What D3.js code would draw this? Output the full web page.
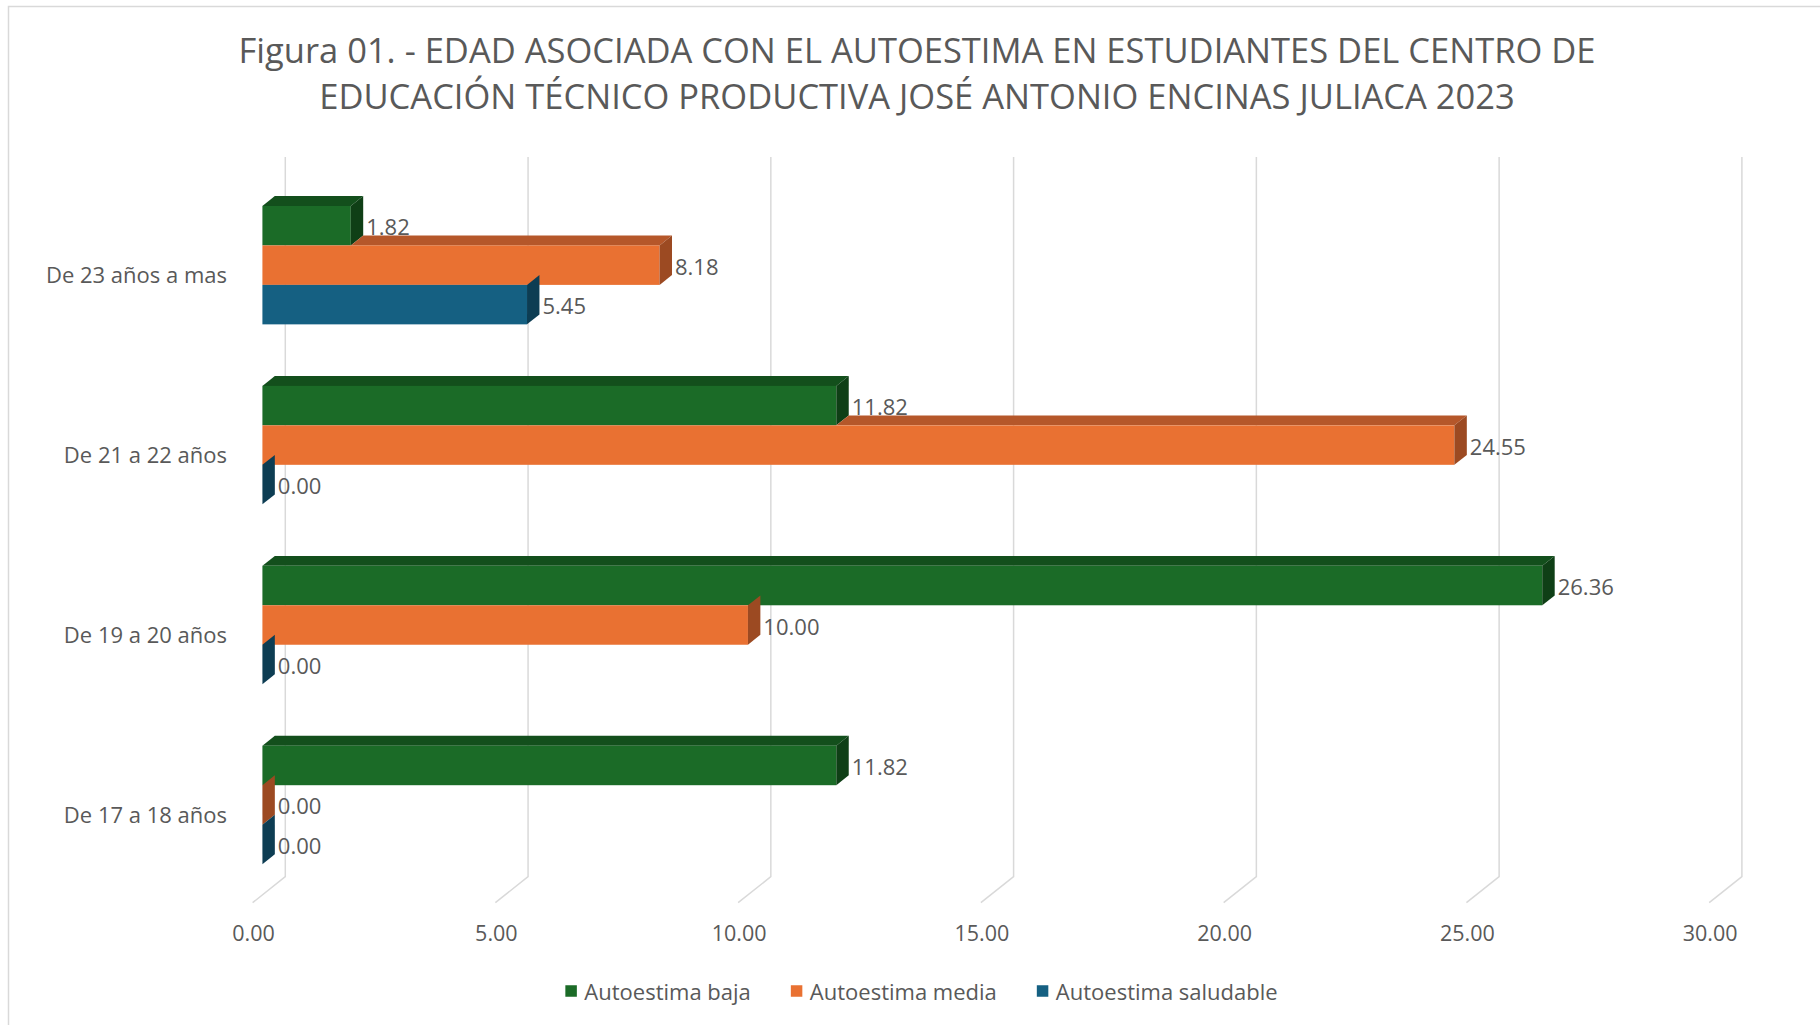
<!DOCTYPE html>
<html>
<head>
<meta charset="utf-8">
<script src="https://cdn.jsdelivr.net/npm/d3@7"></script>
<style>
  html, body { margin: 0; padding: 0; background: #fff; }
  svg text { font-family: "Open Sans", "Noto Sans", sans-serif; fill: #595959; }
</style>
</head>
<body>
<svg id="chart" width="1820" height="1025"></svg>
<script>
// data
const categories = ["De 23 años a mas", "De 21 a 22 años", "De 19 a 20 años", "De 17 a 18 años"];
const seriesNames = ["Autoestima baja", "Autoestima media", "Autoestima saludable"];
const baja = [1.82, 11.82, 26.36, 11.82];
const media = [8.18, 24.55, 10.00, 0.00];
const saludable = [5.45, 0.00, 0.00, 0.00];
const xTicks = [0, 5, 10, 15, 20, 25, 30];
const titleLines = [
  "Figura 01. - EDAD ASOCIADA CON EL AUTOESTIMA EN ESTUDIANTES DEL CENTRO DE",
  "EDUCACIÓN TÉCNICO PRODUCTIVA JOSÉ ANTONIO ENCINAS JULIACA 2023"
];

const colors = [
  { front: "#1b6b27", top: "#134f1c", side: "#0f3f16" },
  { front: "#e97132", top: "#b5572a", side: "#9c4a22" },
  { front: "#156082", top: "#104a64", side: "#0d3d53" }
];
const values = [baja, media, saludable];

const svg = d3.select("#chart");

// chart area outline
svg.append("rect")
  .attr("x", 8.5).attr("y", 6.5)
  .attr("width", 1840).attr("height", 1040)
  .attr("fill", "#fff")
  .attr("stroke", "#d9d9d9")
  .attr("stroke-width", 1.5);

// title
svg.append("g").selectAll("text")
  .data(titleLines)
  .join("text")
  .attr("x", 917)
  .attr("y", (d, i) => 49 + i * 46)
  .attr("text-anchor", "middle")
  .attr("dominant-baseline", "central")
  .attr("font-size", 34.5)
  .text(d => d);

// oblique 3d: depth 0 = front of floor, depth 1 = back wall
const DX = 32.7, DY = -26;
const Z0 = 0.30, Z1 = 0.68;

const x = d3.scaleLinear().domain([0, 30]).range([252.6, 1709.2]);
const y = d3.scaleBand().domain(categories).range([183, 902.7])
  .paddingInner(0.342).paddingOuter(0.171);
const ys = d3.scaleBand().domain(seriesNames).range([0, y.bandwidth()]);

const proj = (v, yy, z) => [x(v) + z * DX, yy + z * DY];
const pts = arr => arr.map(p => p.join(",")).join(" ");

const backTop = 157, backBottom = 902.7 + DY;

// gridlines: back wall verticals + floor diagonals
const grid = svg.append("g")
  .attr("fill", "none")
  .attr("stroke", "#d9d9d9")
  .attr("stroke-width", 1.5);
grid.selectAll("path")
  .data(xTicks)
  .join("path")
  .attr("d", d => `M${x(d) + DX},${backTop} L${x(d) + DX},${backBottom} L${x(d)},${902.7}`);

// x tick labels
svg.append("g").selectAll("text")
  .data(xTicks)
  .join("text")
  .attr("x", d => x(d) + 1)
  .attr("y", 932)
  .attr("text-anchor", "middle")
  .attr("dominant-baseline", "central")
  .attr("font-size", 21.5)
  .text(d => d.toFixed(2));

// category labels
svg.append("g").selectAll("text")
  .data(categories)
  .join("text")
  .attr("x", 227)
  .attr("y", d => y(d) + y.bandwidth() / 2 + 1.5)
  .attr("text-anchor", "end")
  .attr("dominant-baseline", "central")
  .attr("font-size", 22)
  .text(d => d);

// bars, drawn group by group, series top to bottom
const bars = svg.append("g");
categories.forEach((cat, ci) => {
  const g = bars.append("g");
  seriesNames.forEach((s, si) => {
    const v = values[si][ci];
    const prev = si === 0 ? 0 : values[si - 1][ci];
    const t = y(cat) + ys(s);
    const b = t + ys.bandwidth();
    const c = colors[si];
    // top face, only the part not hidden by the bar above
    if (v > prev) {
      g.append("polygon")
        .attr("points", pts([proj(prev, t, Z0), proj(v, t, Z0), proj(v, t, Z1), proj(prev, t, Z1)]))
        .attr("fill", c.top);
    }
    // front face
    if (v > 0) {
      const p0 = proj(0, t, Z0), p1 = proj(v, b, Z0);
      g.append("rect")
        .attr("x", p0[0]).attr("y", p0[1])
        .attr("width", p1[0] - p0[0]).attr("height", p1[1] - p0[1])
        .attr("fill", c.front);
    }
    // right side face
    g.append("polygon")
      .attr("points", pts([proj(v, t, Z0), proj(v, t, Z1), proj(v, b, Z1), proj(v, b, Z0)]))
      .attr("fill", c.side);
    // value label
    const lp = proj(v, (t + b) / 2, Z0);
    g.append("text")
      .attr("x", x(v) + Z1 * DX + 3)
      .attr("y", lp[1] + 0.5)
      .attr("dominant-baseline", "central")
      .attr("font-size", 22)
      .text(v.toFixed(2));
  });
});

// legend
const legend = svg.append("g");
const items = legend.selectAll("g")
  .data(seriesNames)
  .join("g");
items.append("rect")
  .attr("width", 11.5).attr("height", 11.5)
  .attr("y", -5.75)
  .attr("fill", (d, i) => colors[i].front);
items.append("text")
  .attr("x", 19)
  .attr("dominant-baseline", "central")
  .attr("font-size", 22)
  .text(d => d);
let cx = 0;
items.each(function () {
  const w = 19 + this.querySelector("text").getComputedTextLength();
  d3.select(this).attr("transform", `translate(${cx},0)`);
  cx += w + 40;
});
const total = cx - 40;
legend.attr("transform", `translate(${921.5 - total / 2},991)`);
</script>
</body>
</html>
